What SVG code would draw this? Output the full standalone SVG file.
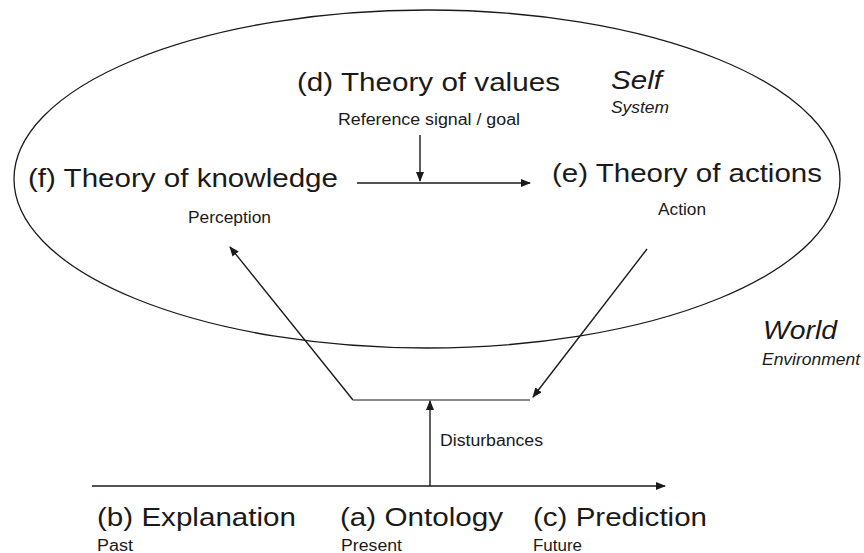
<svg xmlns="http://www.w3.org/2000/svg" width="864" height="553" viewBox="0 0 864 553">
<style>
  text { font-family: "Liberation Sans", Arial, sans-serif; fill: #1a1a1a; }
  .big { font-size: 26px; }
  .small { font-size: 16px; }
  .it { font-style: italic; }
  .line { stroke: #1a1a1a; stroke-width: 1.4; fill: none; }
  .bar { stroke: #8a8a8a; stroke-width: 2.2; fill: none; }
</style>
<defs>
  <marker id="ah" markerUnits="userSpaceOnUse" markerWidth="10" markerHeight="8" refX="9" refY="4" orient="auto">
    <path d="M0,0 L10,4 L0,8 z" fill="#1a1a1a"/>
  </marker>
</defs>
<rect width="864" height="553" fill="#ffffff"/>
<g id="self-boundary">
  <ellipse cx="427" cy="179" rx="413" ry="169" fill="none" stroke="#1a1a1a" stroke-width="1.3"/>
</g>
<g id="connectors">
  <path class="line" d="M357,183 L530,183" marker-end="url(#ah)"/>
  <path class="line" d="M420,135 L420,181" marker-end="url(#ah)"/>
  <path class="line" d="M353,400 L230,247" marker-end="url(#ah)"/>
  <path class="line" d="M647,249 L533,397" marker-end="url(#ah)"/>
  <path class="bar" d="M353,400 L530,400"/>
  <path class="line" d="M430,486 L430,401" marker-end="url(#ah)"/>
  <path class="line" d="M92,486 L665,486" marker-end="url(#ah)"/>
</g>
<g id="node-d">
  <text class="big" x="297" y="91" textLength="263" lengthAdjust="spacingAndGlyphs">(d) Theory of values</text>
  <text class="small" x="338" y="125" textLength="182" lengthAdjust="spacingAndGlyphs">Reference signal / goal</text>
</g>
<g id="label-self">
  <text class="big it" x="611" y="89" textLength="51" lengthAdjust="spacingAndGlyphs">Self</text>
  <text class="small it" x="611" y="113" textLength="58" lengthAdjust="spacingAndGlyphs">System</text>
</g>
<g id="node-f">
  <text class="big" x="28" y="187" textLength="310" lengthAdjust="spacingAndGlyphs">(f) Theory of knowledge</text>
  <text class="small" x="188" y="223" textLength="83" lengthAdjust="spacingAndGlyphs">Perception</text>
</g>
<g id="node-e">
  <text class="big" x="552" y="182" textLength="270" lengthAdjust="spacingAndGlyphs">(e) Theory of actions</text>
  <text class="small" x="658" y="215" textLength="48" lengthAdjust="spacingAndGlyphs">Action</text>
</g>
<g id="label-world">
  <text class="big it" x="763" y="339" textLength="74" lengthAdjust="spacingAndGlyphs">World</text>
  <text class="small it" x="762" y="365" textLength="98" lengthAdjust="spacingAndGlyphs">Environment</text>
</g>
<g id="label-disturbances">
  <text class="small" x="440" y="446" textLength="103" lengthAdjust="spacingAndGlyphs">Disturbances</text>
</g>
<g id="node-b">
  <text class="big" x="97" y="526" textLength="199" lengthAdjust="spacingAndGlyphs">(b) Explanation</text>
  <text class="small" x="97" y="551" textLength="36" lengthAdjust="spacingAndGlyphs">Past</text>
</g>
<g id="node-a">
  <text class="big" x="340" y="526" textLength="163" lengthAdjust="spacingAndGlyphs">(a) Ontology</text>
  <text class="small" x="341" y="551" textLength="61" lengthAdjust="spacingAndGlyphs">Present</text>
</g>
<g id="node-c">
  <text class="big" x="533" y="526" textLength="174" lengthAdjust="spacingAndGlyphs">(c) Prediction</text>
  <text class="small" x="533" y="551" textLength="49" lengthAdjust="spacingAndGlyphs">Future</text>
</g>
</svg>
